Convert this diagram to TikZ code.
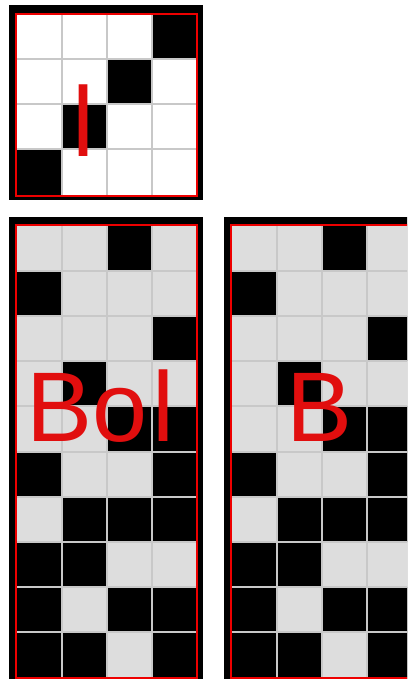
\documentclass[tikz,border=0pt]{standalone}
\usepackage{fontspec}
\setmainfont{Liberation Sans}
\definecolor{tilered}{RGB}{225,14,14}
\definecolor{framered}{RGB}{238,0,0}
\definecolor{tilegray}{RGB}{221,221,221}
\definecolor{gridgray}{RGB}{200,200,200}
\newcommand{\glyphfont}{\fontsize{99}{99}\selectfont}

\begin{document}
\begin{tikzpicture}[x=1pt,y=-1pt,
  outer/.style={fill=black},
  dot/.style={fill=black},
  gridline/.style={draw=gridgray,line width=2pt},
  redframe/.style={draw=framered,line width=2pt},
  glyph/.style={text=tilered,font=\glyphfont,inner sep=0pt,anchor=base west}]
  \useasboundingbox (0,0) rectangle (407,679);
  \clip (0,0) rectangle (407,679);
  %% small grid
  \fill[outer] (9,5) rectangle (203,200);
  \fill[white] (16.5,14.5) rectangle (196.5,194.5);
  \foreach \c/\r in {3/0,2/1,1/2,0/3}
    \fill[dot] (16.5+45*\c,14.5+45*\r) rectangle ++(45,45);
  \foreach \i in {1,2,3} {
    \draw[gridline] (16.5+45*\i,14.5) -- ++(0,180);
    \draw[gridline] (16.5,14.5+45*\i) -- ++(180,0);
  }
  \draw[redframe] (15.7,14) rectangle (197.3,195.5);
  \node[glyph] (small) at (72.4,157) {l};
  %% tall grids
  \foreach \dx in {0,215} {
    \begin{scope}[xshift=\dx]
      \fill[outer] (9,217) rectangle (203,690);
      \fill[tilegray] (16.5,226) rectangle (196.5,677);
      \foreach \c/\r in {2/0,0/1,3/2,1/3,2/4,3/4,0/5,3/5,1/6,2/6,3/6,
                         0/7,1/7,0/8,2/8,3/8,0/9,1/9,3/9}
        \fill[dot] (16.5+45*\c,226+45.1*\r) rectangle ++(45,45.1);
      \foreach \i in {1,2,3}
        \draw[gridline] (16.5+45*\i,226) -- ++(0,451);
      \foreach \i in {1,...,9}
        \draw[gridline] (16.5,226+45.1*\i) -- ++(180,0);
      \draw[redframe] (15.7,224.7) rectangle (197.3,678);
    \end{scope}
  }
  \node[glyph] (bol) at (25.8,441) {Bo\kern5.5pt l};
  \node[glyph] (b) at (285.8,441) {B};
\end{tikzpicture}
\end{document}
